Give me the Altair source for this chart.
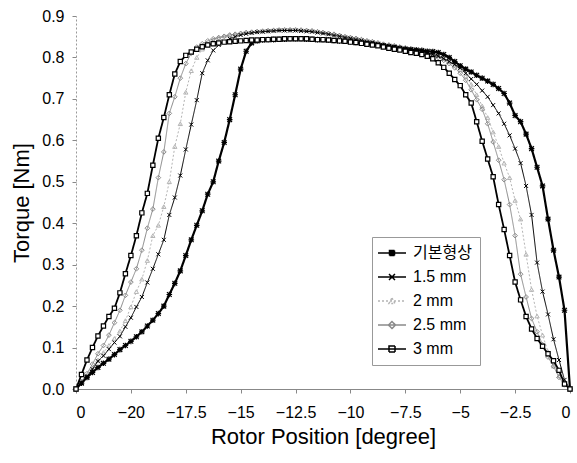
import altair as alt
import pandas as pd

X = [-22.5, -22.25, -22, -21.75, -21.5, -21.25, -21, -20.75, -20.5, -20.25,
     -20, -19.75, -19.5, -19.25, -19, -18.75, -18.5, -18.25, -18, -17.75,
     -17.5, -17.25, -17, -16.75, -16.5, -16.25, -16, -15.75, -15.5, -15.25,
     -15, -14.75, -14.5, -14.25, -14, -13.75, -13.5, -13.25, -13, -12.75,
     -12.5, -12.25, -12, -11.75, -11.5, -11.25, -11, -10.75, -10.5, -10.25,
     -10, -9.75, -9.5, -9.25, -9, -8.75, -8.5, -8.25, -8, -7.75,
     -7.5, -7.25, -7, -6.75, -6.5, -6.25, -6, -5.75, -5.5, -5.25,
     -5, -4.75, -4.5, -4.25, -4, -3.75, -3.5, -3.25, -3, -2.75,
     -2.5, -2.25, -2, -1.75, -1.5, -1.25, -1, -0.75, -0.5, -0.25, 0]

T_BASE = [0, 0.014, 0.028, 0.04, 0.052, 0.062, 0.072, 0.083, 0.095, 0.105,
          0.115, 0.126, 0.138, 0.152, 0.166, 0.182, 0.2, 0.228, 0.255, 0.285,
          0.322, 0.36, 0.395, 0.43, 0.47, 0.5, 0.55, 0.595, 0.65, 0.71,
          0.772, 0.815, 0.835, 0.84, 0.842, 0.843, 0.843, 0.844, 0.844, 0.845,
          0.845, 0.845, 0.844, 0.844, 0.843, 0.842, 0.842, 0.841, 0.84, 0.839,
          0.838, 0.836, 0.835, 0.833, 0.832, 0.83, 0.828, 0.826, 0.824, 0.822,
          0.82, 0.819, 0.818, 0.817, 0.815, 0.814, 0.812, 0.807, 0.8, 0.79,
          0.78, 0.772, 0.765, 0.757, 0.75, 0.743, 0.735, 0.725, 0.713, 0.69,
          0.66, 0.645, 0.615, 0.58, 0.535, 0.49, 0.41, 0.335, 0.27, 0.19, 0]

T_15 = [0, 0.015, 0.03, 0.048, 0.067, 0.08, 0.096, 0.112, 0.127, 0.15,
        0.172, 0.198, 0.222, 0.257, 0.29, 0.325, 0.36, 0.42, 0.462, 0.515,
        0.578, 0.638, 0.697, 0.762, 0.793, 0.817, 0.83, 0.838, 0.845, 0.85,
        0.854, 0.857, 0.859, 0.861, 0.862, 0.863, 0.864, 0.865, 0.865, 0.865,
        0.865, 0.864, 0.863, 0.862, 0.86, 0.858, 0.856, 0.853, 0.851, 0.848,
        0.846, 0.843, 0.841, 0.838, 0.836, 0.833, 0.83, 0.828, 0.826, 0.823,
        0.821, 0.819, 0.817, 0.815, 0.811, 0.807, 0.803, 0.797, 0.79, 0.783,
        0.775, 0.762, 0.748, 0.735, 0.72, 0.705, 0.685, 0.665, 0.64, 0.612,
        0.58, 0.545, 0.49, 0.42, 0.305, 0.235, 0.18, 0.12, 0.07, 0.022, 0]

T_20 = [0, 0.015, 0.03, 0.05, 0.07, 0.088, 0.105, 0.122, 0.14, 0.165,
        0.198, 0.235, 0.265, 0.31, 0.37, 0.395, 0.44, 0.5, 0.585, 0.64,
        0.716, 0.768, 0.8, 0.82, 0.833, 0.842, 0.848, 0.852, 0.855, 0.857,
        0.859, 0.861, 0.862, 0.864, 0.865, 0.866, 0.867, 0.867, 0.868, 0.868,
        0.868, 0.867, 0.866, 0.865, 0.863, 0.861, 0.859, 0.857, 0.854, 0.851,
        0.849, 0.846, 0.844, 0.841, 0.839, 0.836, 0.833, 0.831, 0.829, 0.826,
        0.824, 0.822, 0.82, 0.817, 0.813, 0.809, 0.805, 0.798, 0.79, 0.781,
        0.77, 0.755, 0.735, 0.71, 0.683, 0.655, 0.62, 0.585, 0.545, 0.51,
        0.455, 0.41, 0.325, 0.24, 0.176, 0.13, 0.09, 0.055, 0.032, 0.012, 0]

T_25 = [0, 0.018, 0.037, 0.06, 0.085, 0.105, 0.13, 0.16, 0.19, 0.226,
        0.258, 0.29, 0.335, 0.388, 0.434, 0.51, 0.572, 0.665, 0.705, 0.75,
        0.785, 0.81, 0.825, 0.833, 0.84, 0.845, 0.848, 0.851, 0.854, 0.856,
        0.858, 0.86, 0.861, 0.862, 0.863, 0.864, 0.865, 0.866, 0.866, 0.866,
        0.866, 0.866, 0.865, 0.864, 0.862, 0.86, 0.858, 0.856, 0.853, 0.85,
        0.848, 0.846, 0.843, 0.84, 0.838, 0.835, 0.832, 0.83, 0.828, 0.825,
        0.823, 0.82, 0.818, 0.815, 0.81, 0.805, 0.8, 0.793, 0.785, 0.775,
        0.762, 0.745, 0.722, 0.698, 0.675, 0.64, 0.596, 0.552, 0.505, 0.445,
        0.37, 0.277, 0.222, 0.17, 0.138, 0.107, 0.077, 0.055, 0.028, 0.01, 0]

T_30 = [0, 0.035, 0.07, 0.1, 0.128, 0.152, 0.175, 0.195, 0.232, 0.278,
        0.322, 0.37, 0.425, 0.472, 0.54, 0.605, 0.655, 0.71, 0.76, 0.79,
        0.805, 0.813, 0.82, 0.826, 0.83, 0.833, 0.835, 0.837, 0.838, 0.839,
        0.84, 0.841, 0.842, 0.842, 0.843, 0.843, 0.844, 0.844, 0.845, 0.845,
        0.845, 0.845, 0.845, 0.844, 0.843, 0.843, 0.842, 0.841, 0.84, 0.839,
        0.837, 0.836, 0.834, 0.832, 0.83, 0.828, 0.825, 0.822, 0.82, 0.818,
        0.815, 0.812, 0.81, 0.807, 0.803, 0.797, 0.787, 0.776, 0.762, 0.747,
        0.732, 0.71, 0.69, 0.645, 0.598, 0.555, 0.512, 0.445, 0.385, 0.322,
        0.258, 0.215, 0.175, 0.145, 0.122, 0.103, 0.085, 0.068, 0.045, 0.012, 0]

SERIES = ["기본형상", "1.5 mm", "2 mm", "2.5 mm", "3 mm"]
VALUES = [T_BASE, T_15, T_20, T_25, T_30]
X_TICKS = [-22.5, -20, -17.5, -15, -12.5, -10, -7.5, -5, -2.5, 0]
Y_TICKS = [0, 0.1, 0.2, 0.3, 0.4, 0.5, 0.6, 0.7, 0.8, 0.9]

FONT = "Liberation Sans, Arial, Noto Sans CJK KR"

rows = []
for name, vals in zip(SERIES, VALUES):
    for xv, yv in zip(X, vals):
        rows.append({"series": name, "pos": xv, "torque": yv})
df = pd.DataFrame(rows)

X_PATH = "M-1,-1L1,1M-1,1L1,-1"
STYLE = {
    "기본형상": dict(color="black", width=2.2, dash=[1, 0], shape=X_PATH + "M-1.2,0H1.2M0,-1.2V1.2", size=22, mw=1.2, fill=None),
    "1.5 mm": dict(color="black", width=1.0, dash=[1, 0], shape=X_PATH, size=16, mw=1.0, fill=None),
    "2 mm": dict(color="#b4b4b4", width=1.0, dash=[2, 2], shape="triangle-up", size=18, mw=1.0, fill=None),
    "2.5 mm": dict(color="#8a8a8a", width=1.0, dash=[1, 0], shape="diamond", size=22, mw=1.0, fill=None),
    "3 mm": dict(color="black", width=1.8, dash=[1, 0], shape="square", size=18, mw=1.2, fill="white"),
}
DRAW_ORDER = ["2 mm", "2.5 mm", "1.5 mm", "기본형상", "3 mm"]

x_enc = alt.X("pos:Q",
              scale=alt.Scale(domain=[-22.5, 0], nice=False, zero=False),
              axis=alt.Axis(values=X_TICKS, format=".1~f",
                            labelExpr="datum.value == -22.5 ? '0' : datum.label",
                            title="Rotor Position [degree]",
                            domainColor="#888", tickColor="#888", tickSize=4,
                            labelPadding=11, titlePadding=6, grid=False))
y_enc = alt.Y("torque:Q",
              scale=alt.Scale(domain=[0, 0.9], nice=False),
              axis=alt.Axis(values=Y_TICKS, format=".1f", title="Torque [Nm]",
                            domainColor="#999", domainDash=[2, 2], tickColor="#888",
                            tickSize=4, labelPadding=8, titlePadding=8, grid=False))

base = alt.Chart(df)
layers = []
for name in DRAW_ORDER:
    st = STYLE[name]
    sub = base.transform_filter(alt.datum.series == name)
    layers.append(sub.mark_line(color=st["color"], strokeWidth=st["width"],
                                strokeDash=st["dash"]).encode(x=x_enc, y=y_enc))
    pt_kwargs = dict(shape=st["shape"], size=st["size"], stroke=st["color"],
                     strokeWidth=st["mw"], opacity=1)
    if st["fill"]:
        pt_kwargs.update(filled=True, fill=st["fill"])
    else:
        pt_kwargs.update(filled=False)
    layers.append(sub.mark_point(**pt_kwargs).encode(x=x_enc, y=y_enc))

LEG_PATHS = [
    "M-2.8,0H2.8M-0.5,-0.5H0.5V0.5H-0.5ZM-0.5,-0.25H0.5M-0.5,0.25H0.5",
    "M-2.8,0H2.8M-0.6,-0.6L0.6,0.6M-0.6,0.6L0.6,-0.6",
    "M-2.8,0H2.8M0,-0.6L0.6,0.5L-0.6,0.5Z",
    "M-2.8,0H2.8M0,-0.7L0.7,0L0,0.7L-0.7,0Z",
    "M-2.8,0H2.8M-0.6,-0.6H0.6V0.6H-0.6Z",
]
LEG_COLORS = ["black", "black", "#b4b4b4", "#8a8a8a", "black"]
LEG_DASH = [[1, 0], [1, 0], [2, 2], [1, 0], [1, 0]]

leg = alt.Legend(title=None, orient="none", legendX=296, legendY=221,
                 padding=8, rowPadding=8, labelFontSize=16, labelFont=FONT,
                 labelColor="black", strokeColor="#999", fillColor="white",
                 symbolSize=100, symbolStrokeWidth=1.5, symbolOffset=4,
                 labelOffset=13)

legend_layer = base.transform_filter("false").mark_point(filled=False, opacity=1).encode(
    color=alt.Color("series:N", scale=alt.Scale(domain=SERIES, range=LEG_COLORS), legend=leg),
    shape=alt.Shape("series:N", scale=alt.Scale(domain=SERIES, range=LEG_PATHS), legend=leg),
    strokeDash=alt.StrokeDash("series:N", scale=alt.Scale(domain=SERIES, range=LEG_DASH), legend=leg),
)

chart = alt.layer(*layers, legend_layer).properties(
    width=494, height=373,
    autosize=alt.AutoSizeParams(type="none"),
    padding={"left": 76, "top": 16, "right": 7, "bottom": 74},
    background="white",
).configure_view(stroke=None).configure_axis(
    labelFont=FONT, labelFontSize=16, labelColor="black",
    titleFont=FONT, titleFontSize=22, titleFontWeight="normal", titleColor="black",
)

chart.save("out.html", embed_options={"renderer": "svg", "actions": False})
